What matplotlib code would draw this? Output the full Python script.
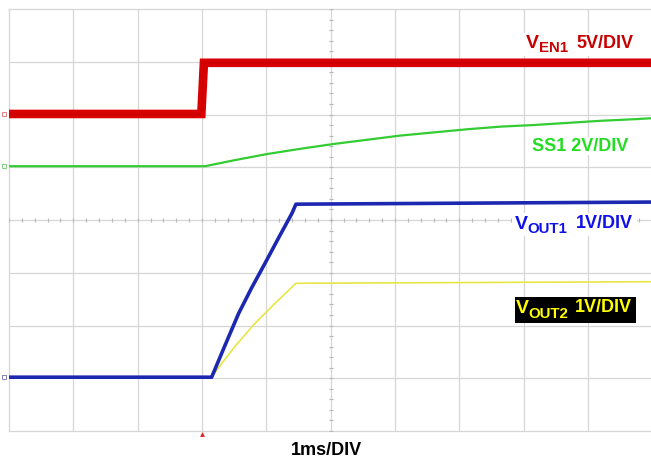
import numpy as np
import matplotlib
matplotlib.use("Agg")
import matplotlib.pyplot as plt
from matplotlib.patches import Rectangle

plt.rcParams['font.family'] = ['Liberation Sans', 'DejaVu Sans']

# ---- data (time in divisions, voltage in divisions) ----
ven1_t = [0.0, 2.99, 3.03, 10.0]
ven1_v = [6.01, 6.01, 6.98, 6.98]

ss1_t = [0.0, 3.05, 3.25, 3.49, 3.75, 4.01, 4.53, 5.04, 5.56, 6.08, 6.60,
         7.12, 7.64, 8.15, 8.67, 9.19, 9.71, 10.0]
ss1_v = [5.02, 5.02, 5.07, 5.13, 5.19, 5.25, 5.35, 5.44, 5.52, 5.60, 5.66,
         5.72, 5.77, 5.80, 5.84, 5.88, 5.91, 5.93]

vout1_t = [0.0, 3.15, 3.36, 3.57, 3.77, 3.98, 4.19, 4.40, 4.46, 10.0]
vout1_v = [1.02, 1.02, 1.63, 2.23, 2.71, 3.18, 3.66, 4.13, 4.30, 4.34]

vout2_t = [0.0, 3.15, 3.30, 3.51, 3.80, 4.11, 4.46, 10.0]
vout2_v = [1.02, 1.02, 1.27, 1.60, 2.01, 2.39, 2.80, 2.83]

x_divs = 10
y_divs = 8
trigger_t = 3.0

W, H = 651, 458
fig = plt.figure(figsize=(W / 100, H / 100), dpi=100)
left, right, top, bottom = 9, 652.3, 9, 431
ax = fig.add_axes([left / W, 1 - bottom / H, (right - left) / W, (bottom - top) / H])
ax.set_xlim(0, x_divs)
ax.set_ylim(0, y_divs)
ax.set_axis_off()

def px(xp, yp):
    """pixel position of the reference -> division coordinates"""
    return (xp - left) / (right - left) * x_divs, (bottom - yp) / (bottom - top) * y_divs

grid_c = '#d6d6d6'
for gx in range(0, x_divs + 1):
    ax.axvline(gx, color=grid_c, lw=0.9, zorder=0, clip_on=False)
for gy in range(0, y_divs + 1):
    ax.axhline(gy, color=grid_c, lw=0.9, zorder=0, clip_on=False)

# minor ticks on centre lines
mx = np.arange(0, x_divs + 0.001, 0.2)
ax.plot(mx, np.full(len(mx), y_divs / 2), linestyle='none', marker='|',
        markersize=3.5, color='#b8b8b8', mew=0.8, zorder=0.5)
my = np.arange(0, y_divs + 0.001, 0.2)
ax.plot(np.full(len(my), x_divs / 2), my, linestyle='none', marker='_',
        markersize=3.5, color='#b8b8b8', mew=0.8, zorder=0.5)

# label backgrounds
def box(x0, y0, x1, y1, color):
    a = px(x0, y1)
    b = px(x1, y0)
    ax.add_patch(Rectangle(a, b[0] - a[0], b[1] - a[1], fc=color, ec='none', zorder=2))

box(523, 33, 638, 56, 'white')
box(529, 137, 632, 155, 'white')
box(512, 213, 637, 236, 'white')
box(515, 297, 636, 323, 'black')

# traces
ax.plot(ven1_t, ven1_v, color='#d80000', lw=6.2, solid_joinstyle='miter',
        solid_capstyle='butt', zorder=3)
ax.plot(ven1_t, ven1_v, color='#b80000', lw=0.8, alpha=0.6, zorder=3.1)
ax.plot(ss1_t, ss1_v, color='#33cc33', lw=1.6, zorder=3)
ax.plot(vout2_t, vout2_v, color='#e6e645', lw=1.2, zorder=3)
ax.plot(vout1_t, vout1_v, color='#1c28b0', lw=2.6, zorder=3.2)

# channel markers & trigger
ax.plot([-0.07], [ven1_v[0]], marker='s', ms=3, mfc='none', mec='#e08080', mew=0.7, clip_on=False)
ax.plot([-0.07], [ss1_v[0]], marker='s', ms=3, mfc='none', mec='#80d080', mew=0.7, clip_on=False)
ax.plot([-0.07], [vout1_v[0]], marker='s', ms=3, mfc='none', mec='#8080c0', mew=0.7, clip_on=False)
ax.plot([trigger_t], [-0.06], marker='^', ms=3.5, color='#e02020', mec='none', clip_on=False)

fs_main, fs_v, fs_sub = 13, 14, 10.8

def label(parts, color):
    for text, size, (xp, yp) in parts:
        x, y = px(xp, yp)
        ax.text(x, y, text, color=color, fontsize=size, fontweight='bold',
                ha='left', va='baseline', zorder=4)

label([('V', fs_v, (525.5, 48.5)), ('EN1', fs_sub, (539.0, 52.5)),
       ('5V/DIV', fs_main, (576.0, 47.5))], '#c80000')
label([('SS1 2V/DIV', fs_main, (531.5, 151.0))], '#22dd22')
label([('V', fs_v, (514.5, 229.0)), ('OUT1', fs_sub, (527.5, 233.3)),
       ('1V/DIV', fs_main, (575.5, 228.3))], '#1010e8')
label([('V', fs_v, (515.5, 313.3)), ('OUT2', fs_sub, (528.5, 318.3)),
       ('1V/DIV', fs_main, (574.5, 312.5))], '#ffff00')

fig.text(326.5 / W, 1 - 455 / H, '1ms/DIV', color='black', fontsize=fs_main,
         fontweight='bold', ha='center', va='baseline')

fig.savefig('out.png', dpi=100, facecolor='white')
